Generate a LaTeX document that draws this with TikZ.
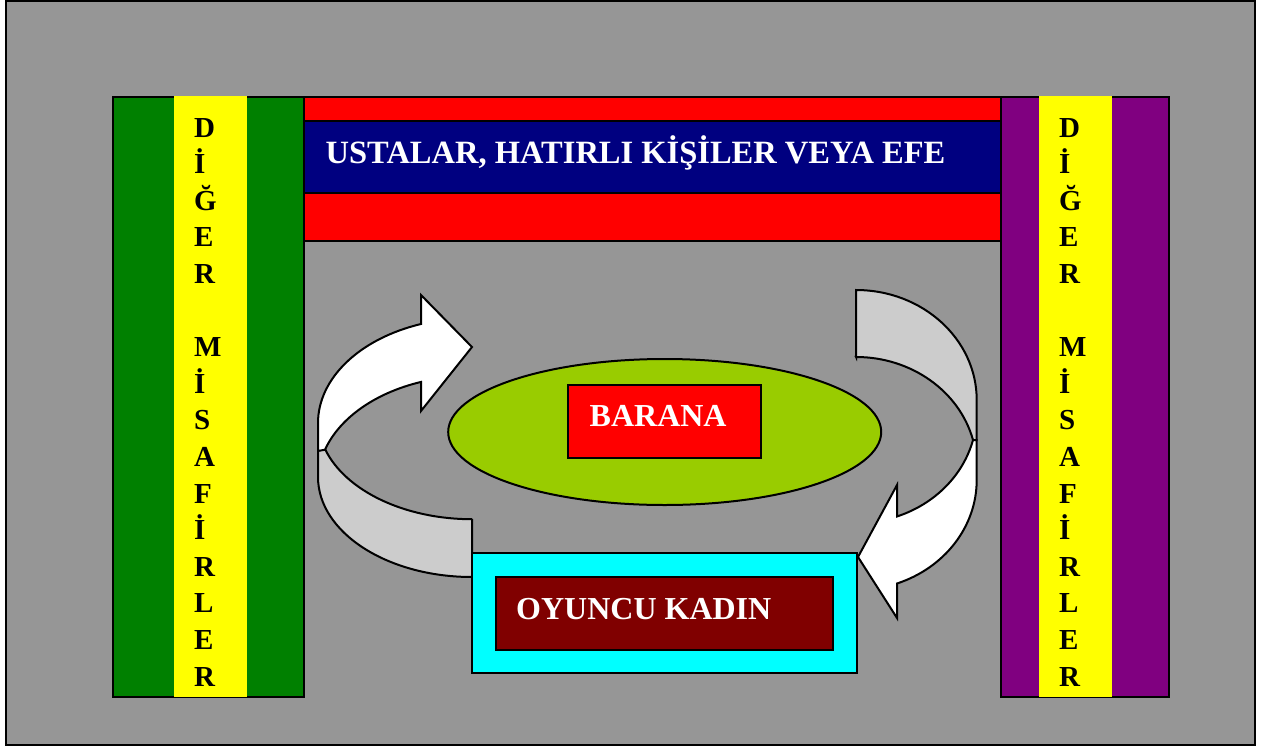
\documentclass[tikz,border=0pt]{standalone}
\usepackage{fontspec}
\setmainfont{Liberation Serif}
\definecolor{framegray}{RGB}{150,150,150}
\definecolor{backgray}{RGB}{204,204,204}
\definecolor{leafgreen}{RGB}{153,204,0}
\definecolor{pillargreen}{RGB}{0,128,0}
\definecolor{pillarpurple}{RGB}{128,0,128}
\definecolor{pillaryellow}{RGB}{255,255,0}
\definecolor{bandred}{RGB}{255,0,0}
\definecolor{bandnavy}{RGB}{0,0,128}
\definecolor{boxcyan}{RGB}{0,255,255}
\definecolor{boxmaroon}{RGB}{128,0,0}
\def\pillarletters(#1)[#2]{\foreach \ch/\k in {D/0,İ/1,Ğ/2,E/3,R/4,M/6,İ/7,S/8,A/9,F/10,İ/11,R/12,L/13,E/14,R/15}
    \node[pillar] (#2\k) at (#1, 137+36.6*\k) {\ch};}

\begin{document}
\begin{tikzpicture}[x=1pt, y=-1pt,
    pillar/.style={anchor=base west, inner sep=0pt, font=\bfseries\fontsize{29}{29}\selectfont},
    label/.style={anchor=base west, inner sep=0pt, text=white, font=\bfseries\fontsize{32}{32}\selectfont},
    backband/.style={line width=2, fill=backgray},
    frontband/.style={line width=2, fill=white}]
			%%%%% START %%%%%
			\useasboundingbox (0,0) rectangle (1268,747);
			\draw[line width=2, fill=framegray] (6,1) rectangle (1255,745);
			
			% pillars
			\draw[line width=2, fill=pillargreen] (113,97) rectangle (304,697);
			\fill[pillaryellow] (174,96) rectangle (247,697);
			\draw[line width=2, fill=pillarpurple] (1001,97) rectangle (1169,697);
			\fill[pillaryellow] (1039,96) rectangle (1112,697);
			\pillarletters(194)[left]
			\pillarletters(1059)[right]
			
			% top band
			\draw[line width=2, fill=bandred] (304,97) rectangle (1001,241);
			\draw[line width=2, fill=bandnavy] (304,121) rectangle (1001,193);
			\node[label, font=\bfseries\fontsize{32.5}{32.5}\selectfont] (ustalar) at (325.5,163.3) {USTALAR, HATIRLI KİŞİLER VEYA EFE};
			
			% left arrow
			\draw[backband] (472,519) -- (472,577) arc[start angle=90, end angle=180, x radius=154, y radius=100]
			    -- (318,450) -- (325,449) arc[start angle=162.66, end angle=90, x radius=154, y radius=100] -- cycle;
			\draw[frontband] (421,324) arc[start angle=250.66, end angle=180, x radius=154, y radius=105]
			    -- (318,451) -- (325,449.7) arc[start angle=197.34, end angle=250.66, x radius=154, y radius=105]
			    -- (421,411) -- (472,347) -- (421,295) -- cycle;
			
			% right arrow
			\draw[backband] (856,357) -- (856,290) arc[start angle=270, end angle=360, x radius=120.7, y radius=110]
			    -- (976.7,440) -- (973,440) arc[start angle=-14.2, end angle=-90, x radius=120.7, y radius=110] -- cycle;
			\draw[frontband] (897,583.5) arc[start angle=70.14, end angle=0, x radius=120.7, y radius=110]
			    -- (976.7,440) -- (973,440) arc[start angle=14.2, end angle=70.14, x radius=120.7, y radius=110]
			    -- (897,485) -- (858,557) -- (897,618) -- cycle;
			
			% barana
			\draw[line width=2, fill=leafgreen] (664.7,432) ellipse[x radius=216.5, y radius=73];
			\draw[line width=2, fill=bandred] (568,385) rectangle (761,458);
			\node[label] (barana) at (589.5,426.7) {BARANA};
			
			% oyuncu kadin
			\draw[line width=2, fill=boxcyan] (472,553) rectangle (856.7,673);
			\draw[line width=2, fill=boxmaroon] (496,577) rectangle (833,650);
			\node[label] (oyuncu) at (516,619.3) {OYUNCU KADIN};
			
			%%%%% END %%%%%
\end{tikzpicture}
\end{document}
